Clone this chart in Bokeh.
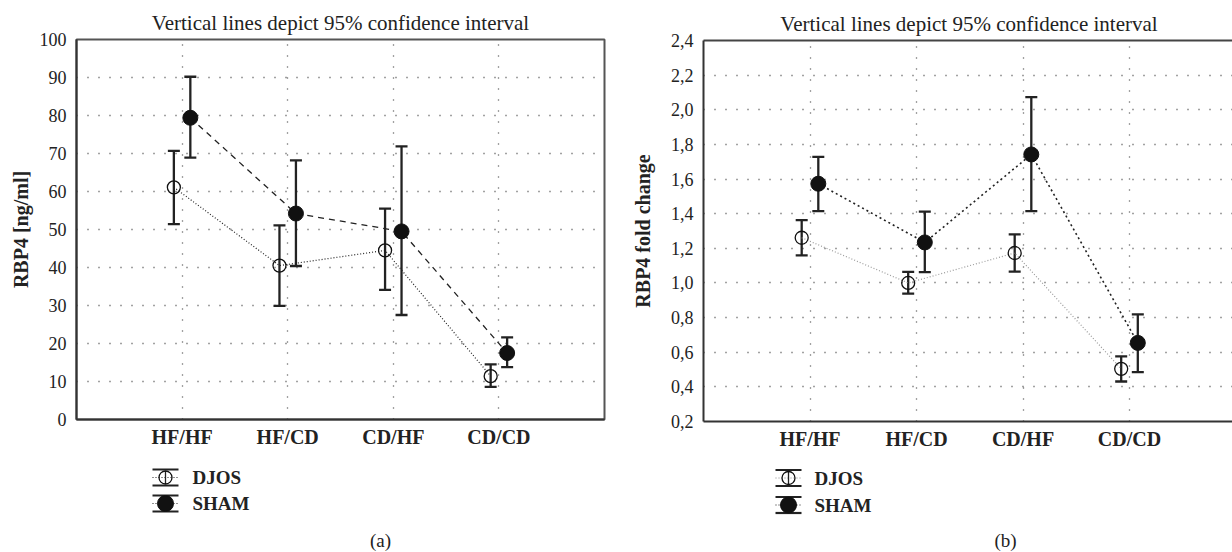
from bokeh.plotting import figure
from bokeh.models import Range1d, FixedTicker, Whisker, TeeHead, ColumnDataSource, LinearAxis
from bokeh.layouts import row, column
from bokeh.embed import file_html
from bokeh.resources import INLINE
from bokeh.core.properties import value

# ---------------- data ----------------
categories = ["HF/HF", "HF/CD", "CD/HF", "CD/CD"]
groups = ["DJOS", "SHAM"]

a_djos_mean = [61.1, 40.5, 44.5, 11.4]
a_djos_low = [51.4, 29.9, 34.1, 8.6]
a_djos_high = [70.7, 51.1, 55.5, 14.5]
a_sham_mean = [79.4, 54.2, 49.5, 17.5]
a_sham_low = [68.9, 40.4, 27.5, 13.8]
a_sham_high = [90.2, 68.2, 71.9, 21.6]

b_djos_mean = [1.261, 1.000, 1.173, 0.504]
b_djos_low = [1.159, 0.938, 1.065, 0.431]
b_djos_high = [1.363, 1.064, 1.281, 0.576]
b_sham_mean = [1.573, 1.234, 1.742, 0.654]
b_sham_low = [1.415, 1.062, 1.415, 0.485]
b_sham_high = [1.728, 1.412, 2.073, 0.819]

a_ticks = [0, 10, 20, 30, 40, 50, 60, 70, 80, 90, 100]
a_tick_labels = ["0", "10", "20", "30", "40", "50", "60", "70", "80", "90", "100"]
b_ticks = [0.2, 0.4, 0.6, 0.8, 1.0, 1.2, 1.4, 1.6, 1.8, 2.0, 2.2, 2.4]
b_tick_labels = ["0,2", "0,4", "0,6", "0,8", "1,0", "1,2", "1,4", "1,6", "1,8", "2,0", "2,2", "2,4"]

title_text = "Vertical lines depict 95% confidence interval"
a_ylabel = "RBP4 [ng/ml]"
b_ylabel = "RBP4 fold change"
captions = ["(a)", "(b)"]

SERIF = "Liberation Serif"
INK = "#222222"
DODGE = 0.078
MAIN_H = 455
LEG_H = 97


def bare(width, height):
    q = figure(frame_width=width, frame_height=height, x_range=Range1d(0, width),
               y_range=Range1d(0, height), min_border=0, x_axis_location=None,
               y_axis_location=None, output_backend="svg", toolbar_location=None)
    q.grid.visible = False
    q.outline_line_color = None
    return q


def make_main(frame_w, bl, br, bt, fh, x_end, y0, y1, ticks, tlabels, ylabel,
              djos, sham, djos_style, sham_style, full_outline, label_standoff):
    p = figure(frame_width=frame_w, frame_height=fh,
               x_range=Range1d(0, x_end), y_range=Range1d(y0, y1),
               min_border_left=bl, min_border_right=br, min_border_top=bt,
               min_border_bottom=MAIN_H - bt - fh,
               output_backend="svg", toolbar_location=None)
    p.title.text = title_text
    p.title.align = "center"
    p.title.text_font = SERIF
    p.title.text_font_style = "normal"
    p.title.text_font_size = "21px"
    p.title.text_color = INK
    p.title.standoff = 10
    xt = FixedTicker(ticks=[i + 1 for i in range(len(categories))])
    yt = FixedTicker(ticks=ticks)
    p.xaxis.ticker = xt
    p.yaxis.ticker = yt
    p.xgrid.ticker = xt
    p.ygrid.ticker = yt
    p.xaxis.major_label_overrides = {i + 1: c for i, c in enumerate(categories)}
    p.yaxis.major_label_overrides = {t: l for t, l in zip(ticks, tlabels)}
    for ax in (p.xaxis, p.yaxis):
        ax.axis_line_color = "#333333"
        ax.axis_line_width = 2
        ax.major_tick_in = 0
        ax.major_tick_out = 0
        ax.minor_tick_line_color = None
        ax.major_label_text_font = SERIF
        ax.major_label_text_color = INK
    p.xaxis.major_label_text_font_size = "20px"
    p.xaxis.major_label_text_font_style = "bold"
    p.xaxis.major_label_standoff = 6
    p.yaxis.major_label_text_font_size = "18px"
    p.yaxis.major_label_standoff = 10
    p.yaxis.axis_label = ylabel
    p.yaxis.axis_label_text_font = SERIF
    p.yaxis.axis_label_text_font_style = "bold"
    p.yaxis.axis_label_text_font_size = "20px"
    p.yaxis.axis_label_text_color = INK
    p.yaxis.axis_label_standoff = label_standoff
    for g in (p.xgrid, p.ygrid):
        g.grid_line_color = "#444444"
        g.grid_line_dash = "1 10"
        g.grid_line_width = 1.3
    if full_outline:
        p.outline_line_color = "#555555"
        p.outline_line_width = 2
    else:
        p.outline_line_color = None
        top = LinearAxis(ticker=FixedTicker(ticks=[]), axis_line_color="#444444",
                         axis_line_width=2, major_tick_in=0, major_tick_out=0,
                         minor_tick_line_color=None, major_label_text_font_size="0px",
                         major_label_standoff=0)
        p.add_layout(top, "above")

    for (mean, low, high), off, style, filled in ((djos, -DODGE, djos_style, False),
                                                   (sham, DODGE, sham_style, True)):
        xs = [i + 1 + off for i in range(len(categories))]
        src = ColumnDataSource(dict(x=xs, mean=mean, low=low, high=high))
        p.line("x", "mean", source=src, **style)
        p.add_layout(Whisker(base="x", lower="low", upper="high", source=src,
                             line_color=INK, line_width=2.3,
                             upper_head=TeeHead(size=12, line_color=INK, line_width=2.3),
                             lower_head=TeeHead(size=12, line_color=INK, line_width=2.3)))
        if filled:
            p.scatter("x", "mean", source=src, marker="circle", size=15,
                      fill_color="#111111", line_color="#111111", line_width=1)
        else:
            p.scatter("x", "mean", source=src, marker="circle", size=13,
                      fill_color=None, line_color="#111111", line_width=1.3)
    return p


def make_legend(width, icon_x, text_x, row_y, line_colors, caption, cap_x):
    q = bare(width, LEG_H)
    half = 13
    for gi, (yy, lc) in enumerate(zip(row_y, line_colors)):
        q.segment(x0=[icon_x - half], y0=[yy], x1=[icon_x + half], y1=[yy],
                  line_color=lc, line_width=1, line_dash="1 2")
        q.segment(x0=[icon_x - half, icon_x - half], y0=[yy + 8, yy - 8],
                  x1=[icon_x + half, icon_x + half], y1=[yy + 8, yy - 8],
                  line_color=INK, line_width=2.2)
        if gi == 0:
            q.segment(x0=[icon_x], y0=[yy - 6.5], x1=[icon_x], y1=[yy + 6.5],
                      line_color=INK, line_width=1.3)
            q.scatter([icon_x], [yy], marker="circle", size=13, fill_color=None,
                      line_color="#111111", line_width=1.3)
        else:
            q.scatter([icon_x], [yy], marker="circle", size=16, fill_color="#111111",
                      line_color="#111111")
    q.text(x=[text_x, text_x], y=list(row_y), text=groups, text_font=value(SERIF),
           text_font_style="bold", text_font_size="19px", text_baseline="middle",
           text_color=INK)
    q.text(x=[cap_x], y=[12], text=[caption], text_font=value(SERIF),
           text_font_size="19px", text_baseline="middle", text_align="center",
           text_color=INK)
    return q


# panel (a): page x 0..628
pa = make_main(528, 76, 24, 39, 380, 5, 0, 100, a_ticks, a_tick_labels, a_ylabel,
               (a_djos_mean, a_djos_low, a_djos_high),
               (a_sham_mean, a_sham_low, a_sham_high),
               dict(line_color="#222222", line_width=1.2, line_dash="1 2"),
               dict(line_color="#222222", line_width=1.3, line_dash="6 5"),
               True, 5)
la = make_legend(628, 89, 116, (75, 49), ("#222222", "#222222"), captions[0], 304)

# panel (b): page x 628..1232
pb = make_main(531, 73, 0, 40, 381, 531 / 106.5, 0.2, 2.4, b_ticks, b_tick_labels, b_ylabel,
               (b_djos_mean, b_djos_low, b_djos_high),
               (b_sham_mean, b_sham_low, b_sham_high),
               dict(line_color="#9a9a9a", line_width=1.2, line_dash="1 2"),
               dict(line_color="#222222", line_width=1.6, line_dash="2 3"),
               False, 14)
lb = make_legend(604, 85, 111, (74.5, 47.5), ("#888888", "#222222"), captions[1], 302)

layout = row(column(pa, la, spacing=0), column(pb, lb, spacing=0), spacing=0)
open("out.html", "w").write(file_html(layout, INLINE))
